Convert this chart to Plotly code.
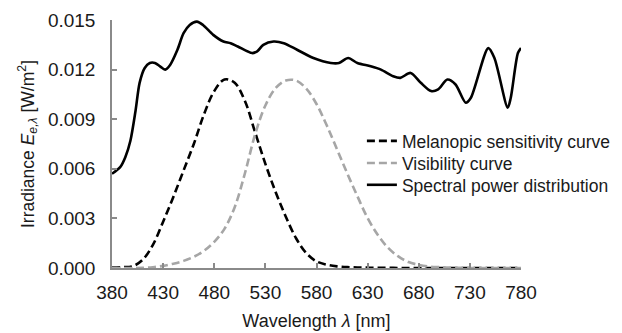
import plotly.graph_objects as go

# Spectral power distribution
spd_wl = [380, 388, 393, 398, 403, 407, 412, 417, 422, 427, 432, 437, 444, 450, 456,
          463, 469, 479, 489, 496, 503, 517, 522, 528, 538, 548, 561, 577, 594, 602,
          611, 620, 633, 643, 655, 662, 672, 682, 692, 699, 708, 716, 726, 731, 748,
          754, 767, 770, 777, 780]
spd_val = [0.0057, 0.0061, 0.0067, 0.0077, 0.0095, 0.0112, 0.0121, 0.0124, 0.0124, 0.0122,
           0.0120, 0.0123, 0.0132, 0.0142, 0.0147, 0.0149, 0.0147, 0.0141, 0.0137, 0.0136,
           0.0134, 0.0130, 0.0131, 0.0135, 0.0137, 0.0136, 0.0132, 0.0127, 0.0124, 0.0124,
           0.0127, 0.0124, 0.0122, 0.0120, 0.0116, 0.0115, 0.0118, 0.0112, 0.0107, 0.0108,
           0.0114, 0.0111, 0.0100, 0.0103, 0.0133, 0.0127, 0.0097, 0.0103, 0.0130, 0.0133]

# Curves sampled every 10 nm
curve_wl = [380, 390, 400, 410, 420, 430, 440, 450, 460, 470, 480, 490, 500, 510, 520,
            530, 540, 550, 560, 570, 580, 590, 600, 610, 620, 630, 640, 650, 660, 670,
            680, 690, 700, 710, 720, 730, 740, 750, 760, 770, 780]
melanopic = [0.00002, 0.00005, 0.0001, 0.0005, 0.0014, 0.0028, 0.0043, 0.0059, 0.0075, 0.0093,
             0.0107, 0.0114, 0.0112, 0.0101, 0.0082, 0.0063, 0.0046, 0.0031, 0.0018, 0.0009,
             0.0004, 0.0002, 0.0001, 0.00005, 0.00003, 0.00002, 0.00001, 0.00001, 0.0, 0.0,
             0.0, 0.0, 0.0, 0.0, 0.0, 0.0, 0.0, 0.0, 0.0, 0.0, 0.0]
visibility = [0.0, 0.0, 0.0, 0.00001, 0.00005, 0.00013, 0.00026, 0.00043, 0.00068, 0.00104,
              0.00158, 0.00237, 0.00368, 0.00573, 0.00809, 0.00983, 0.01088, 0.01134, 0.01134, 0.01085,
              0.00992, 0.00863, 0.00719, 0.00573, 0.00434, 0.00302, 0.00200, 0.00122, 0.00070, 0.00036,
              0.00019, 0.00009, 0.00005, 0.00002, 0.00001, 0.0, 0.0, 0.0, 0.0, 0.0, 0.0]

x_ticks = [380, 430, 480, 530, 580, 630, 680, 730, 780]
y_ticks = [0.000, 0.003, 0.006, 0.009, 0.012, 0.015]

FONT = "Liberation Sans, Arial, sans-serif"
AX = "#8a8a8a"

fig = go.Figure()
fig.add_trace(go.Scatter(x=curve_wl, y=melanopic, mode="lines", name="Melanopic sensitivity curve",
                         legend="legend",
                         line=dict(color="black", width=2.6, dash="8px,4px", shape="spline")))
fig.add_trace(go.Scatter(x=curve_wl, y=visibility, mode="lines", name="Visibility curve",
                         legend="legend2",
                         line=dict(color="#a6a6a6", width=2.6, dash="8px,4px", shape="spline")))
fig.add_trace(go.Scatter(x=spd_wl, y=spd_val, mode="lines", name="Spectral power distribution",
                         legend="legend3",
                         line=dict(color="black", width=2.6, shape="spline", smoothing=0.8)))

leg_common = dict(x=0.611, xanchor="left", yanchor="middle", bgcolor="rgba(0,0,0,0)",
                  font=dict(size=17.5), itemwidth=30)

fig.update_layout(
    width=622, height=333,
    margin=dict(l=112, r=101, t=20, b=65, autoexpand=False),
    paper_bgcolor="white", plot_bgcolor="white",
    font=dict(family=FONT, size=17, color="#1a1a1a"),
    showlegend=True,
    legend=dict(y=0.512, **leg_common),
    legend2=dict(y=0.423, **leg_common),
    legend3=dict(y=0.335, **leg_common),
    xaxis=dict(range=[380, 780], tickvals=x_ticks, ticktext=[str(v) for v in x_ticks],
               automargin=False,
               showgrid=False, zeroline=False, showline=True, linecolor=AX, linewidth=1.5,
               ticks="inside", ticklen=5, tickcolor=AX, tickwidth=1.5,
               tickfont=dict(size=19), ticklabelstandoff=6,
               title=dict(text="Wavelength <i>λ</i> [nm]", font=dict(size=18), standoff=13)),
    yaxis=dict(range=[0, 0.015], tickvals=y_ticks, ticktext=[f"{v:.3f}" for v in y_ticks],
               automargin=False,
               showgrid=False, zeroline=False, showline=True, linecolor=AX, linewidth=1.5,
               ticks="inside", ticklen=5, tickcolor=AX, tickwidth=1.5,
               tickfont=dict(size=19), ticklabelstandoff=11,
               title=dict(text="Irradiance <i>E</i><sub><i>e,λ</i></sub> [W/m<sup>2</sup>]",
                          font=dict(size=17.5), standoff=9)),
)

fig.write_html("out.html")
